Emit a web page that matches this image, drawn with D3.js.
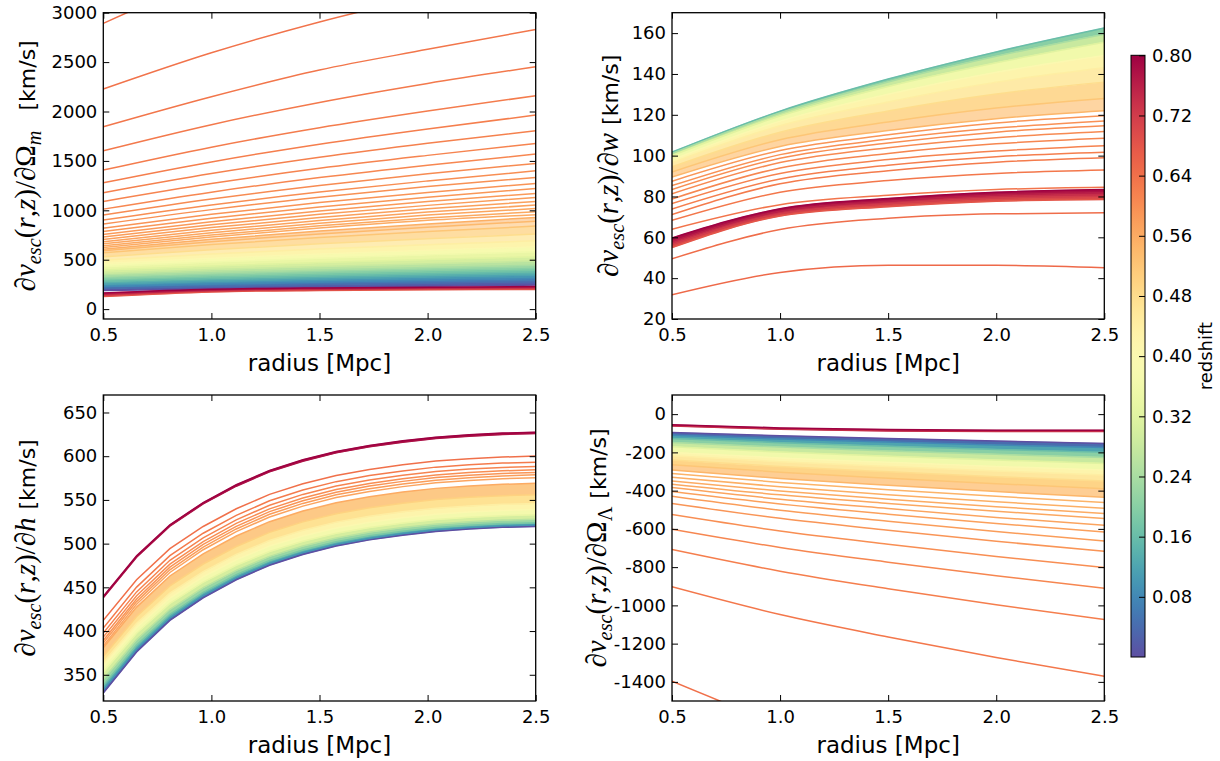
<!DOCTYPE html>
<html><head><meta charset="utf-8">
<script src="https://cdn.jsdelivr.net/npm/d3@7"></script>
<style>
body{margin:0;background:#fff}
svg{display:block}
text{font-family:"DejaVu Sans",sans-serif}
</style>
</head><body>
<svg id="chart" width="1220" height="761"></svg>
<script>
// ---------------- data ----------------
const xTicks = [0.5, 1.0, 1.5, 2.0, 2.5];
const radiusCoarse = [0.5, 1.0, 1.5, 2.0, 2.5];
const radiusFine = [0.5, 0.654, 0.808, 0.962, 1.115, 1.269, 1.423, 1.577, 1.731, 1.885, 2.038, 2.192, 2.346, 2.5];

// top-left: d v_esc / d Omega_m
const zTL = [0.00,0.04,0.08,0.12,0.16,0.20,0.24,0.28,0.32,0.36,0.40,0.44,0.48,0.52,0.54,0.555,
  0.560,0.564,0.568,0.572,0.576,0.580,0.584,0.588,0.592,0.596,0.600,0.604,0.608,0.612,0.616,0.620,0.624,0.628,0.632,0.636,0.640,
  0.68,0.72,0.76,0.80];
const valsTL = [
  [189,206,220,232,243],[209,230,248,263,277],[229,254,275,293,310],[253,281,305,325,344],
  [280,310,336,358,378],[307,340,367,390,412],[334,368,397,422,445],[361,400,432,460,486],
  [395,437,472,502,530],[429,476,515,549,580],[462,514,558,596,631],[496,557,608,652,692],
  [530,601,661,713,760],[570,654,724,785,840],[590,683,761,829,890],[607,707,790,862,928],
  [624,730,821,899,955],[641,750,843,923,985],[661,773,869,952,1019],[682,798,897,982,1053],
  [705,825,927,1015,1090],[729,853,959,1050,1130],[756,885,994,1089,1171],[786,920,1034,1132,1222],
  [820,959,1078,1181,1272],[861,1007,1132,1240,1333],[901,1054,1185,1297,1400],[952,1114,1252,1371,1475],
  [1012,1184,1331,1457,1569],[1090,1271,1425,1556,1677],[1178,1372,1537,1679,1805],[1279,1490,1669,1823,1964],
  [1407,1639,1836,2005,2160],[1603,1867,2092,2284,2453],[1846,2150,2420,2629,2831],[2227,2594,2906,3173,3418],
  [2892,3369,3774,4121,4439],
  [128,174,189,196,199],[140,183,198,205,209],[152,192,207,214,219],[163,200,215,222,228]
];
const fillTL = [[0,15],[37,40]];
const yTicksTL = [0,500,1000,1500,2000,2500,3000];

// top-right: d v_esc / d w
const zTR = [0.16,0.24,0.32,0.40,0.44,0.48,0.52,0.545,
  0.590,0.595,0.600,0.605,0.610,0.615,0.620,0.625,0.630,0.635,0.645,0.650,
  0.68,0.72,0.76,0.80];
const valsTR = [
  [101.7,121.8,137.5,150.8,162.5],[101.0,120.9,136.1,148.7,159.5],[100.0,119.4,133.9,145.5,155.5],
  [98.0,116.9,130.1,140.8,149.0],[96.5,114.6,126.3,136.0,143.0],[94.5,111.5,121.9,130.2,136.0],
  [92.0,107.8,116.5,123.3,128.0],[89.5,104.5,112.3,118.1,122.0],
  [87.5,102.5,110.2,116.0,119.5],[85.3,100.5,108.1,113.5,117.0],[83.4,98.7,106.2,111.5,114.6],
  [81.3,96.6,103.9,108.8,111.8],[78.8,94.0,101.1,105.8,108.5],[76.5,91.3,98.1,102.3,104.9],
  [73.9,88.6,95.3,99.5,101.7],[71.1,86.2,92.6,96.8,99.0],[68.3,82.1,87.8,91.3,93.0],
  [64.0,76.0,80.6,83.4,84.5],[49.5,63.8,69.3,71.5,72.0],[31.9,42.8,46.3,46.3,45.1],
  [55.0,70.4,75.0,77.7,78.5],[56.5,71.6,76.4,79.2,80.1],[58.0,72.8,77.7,80.7,81.8],[59.7,74.0,79.0,82.1,83.4]
];
const fillTR = [[0,7],[20,23]];
const yTicksTR = [20,40,60,80,100,120,140,160];

// bottom-left: d v_esc / d h
const zBL = [0.00,0.10,0.18,0.26,0.34,0.40,0.44,0.50,0.56,
  0.570,0.580,0.590,0.600,0.612,0.625,0.640,
  0.78,0.80];
const valsBL = [
  [329,376.1,412.2,438.0,458.6,475.3,487.6,497.3,504.3,509.7,513.9,516.7,518.6,519.7],
  [333,379.5,415.2,440.7,461.1,477.5,489.8,499.3,506.2,511.5,515.8,518.5,520.4,521.5],
  [338,383.9,419.2,444.3,464.4,480.7,492.7,502.1,509.0,514.2,518.4,521.1,522.9,524.0],
  [345,390.2,424.9,449.6,469.4,485.4,497.2,506.5,513.2,518.4,522.5,525.1,526.9,528.0],
  [353,397.5,431.6,455.9,475.3,491.0,502.7,511.8,518.4,523.5,527.5,530.1,532.0,533.0],
  [359.5,403.8,437.8,462.1,481.5,497.2,508.8,517.9,524.5,529.5,533.6,536.1,538.0,539.0],
  [364,408.9,443.4,468.0,487.7,503.6,515.4,524.6,531.3,536.4,540.5,543.1,544.9,546.0],
  [371,416.7,451.7,476.7,496.7,512.9,524.9,534.2,541.0,546.3,550.4,553.1,554.9,556.0],
  [381,427.4,463.0,488.4,508.7,525.1,537.3,546.8,553.7,559.0,563.2,565.9,567.8,569.0],
  [383.2,430.6,467.0,493.0,513.7,530.5,542.9,552.7,559.7,565.2,569.5,572.3,574.3,575.4],
  [386.3,433.7,470.1,496.1,516.8,533.6,546.0,555.8,562.8,568.3,572.6,575.4,577.4,578.7],
  [389.3,436.7,473.1,499.1,519.8,536.6,549.0,558.8,565.8,571.2,575.5,578.3,580.2,581.4],
  [393.1,440.3,476.6,502.4,523.1,539.8,552.2,561.9,568.9,574.3,578.6,581.3,583.3,584.4],
  [397.7,444.8,480.9,506.6,527.2,543.9,556.3,565.9,572.9,578.3,582.5,585.3,587.2,588.3],
  [403.4,450.3,486.2,511.9,532.4,549.0,561.3,570.9,577.9,583.2,587.5,590.2,592.1,593.2],
  [412.2,458.6,494.2,519.6,539.9,556.3,568.5,578.0,584.9,590.2,594.4,597.1,599.0,600.1],
  [438.0,484.4,520.0,545.4,565.7,582.1,594.3,603.8,610.7,616.0,620.2,622.9,624.8,625.9],
  [439.6,486.0,521.6,547.0,567.3,583.7,595.9,605.4,612.3,617.6,621.8,624.5,626.4,627.5]
];
const fillBL = [[0,8],[16,17]];
const yTicksBL = [350,400,450,500,550,600,650];

// bottom-right: d v_esc / d Omega_Lambda
const zBR = [0.00,0.08,0.16,0.24,0.32,0.40,0.44,0.48,0.52,0.545,
  0.550,0.555,0.560,0.565,0.570,0.575,0.580,0.590,0.600,0.610,0.620,0.630,0.640,
  0.74,0.80];
const valsBR = [
  [-96,-113.7,-127.9,-141.0,-153],[-110,-130.2,-146.4,-161.4,-175],[-127,-149.6,-167.9,-184.7,-200],
  [-148,-172.5,-192.2,-210.4,-227],[-171,-198.0,-219.7,-239.7,-258],[-200,-228.8,-252.1,-273.5,-293],
  [-218,-249,-274,-297,-318],[-240,-274.1,-301.6,-326.9,-350],[-265,-303.8,-335,-363.8,-390],
  [-292,-336.3,-372.1,-405,-435],
  [-310,-357,-395,-430,-462],[-330,-380,-421,-458,-492],[-349,-402,-445,-484,-520],
  [-366,-422,-467,-508,-546],[-384,-445,-494,-540,-581],[-405,-470,-523,-572,-616],
  [-429,-502,-560,-614,-663],[-467,-545,-607,-665,-717],[-525,-611,-680,-744,-802],
  [-602,-697,-774,-845,-910],[-708,-821,-913,-997,-1074],[-903,-1048,-1165,-1273,-1371],
  [-1397,-1622,-1804,-1971,-2123],
  [-62,-79,-88,-91,-91],[-55,-72,-81,-84,-84]
];
const fillBR = [[0,9],[23,24]];
const yTicksBR = [-1400,-1200,-1000,-800,-600,-400,-200,0];

const cbarTicks = [0.08,0.16,0.24,0.32,0.40,0.48,0.56,0.64,0.72,0.80];
const zRange = [0, 0.8];

// ---------------- drawing ----------------
const svg = d3.select('#chart');
const color = z => d3.interpolateSpectral(1 - (z - zRange[0]) / (zRange[1] - zRange[0]));
const fmtY = d => (d < 0 ? '-' : '') + d3.format('d')(Math.abs(d));

const panels = [
  {radius: radiusCoarse, z: zTL, vals: valsTL, fills: fillTL, yDomain: [-100, 3000], yTicks: yTicksTL, stripe: 0.55,
   box: {l: 103.3, r: 535.7, t: 12.7, b: 319}, curve: d3.curveMonotoneX, wrt: [{t:'∂'},{t:'Ω',up:true},{t:'m',sub:true}], gap: 20, lx: 35},
  {radius: radiusCoarse, z: zTR, vals: valsTR, fills: fillTR, yDomain: [20, 170], yTicks: yTicksTR, stripe: 0.65,
   box: {l: 672, r: 1104.3, t: 12.7, b: 319}, curve: d3.curveMonotoneX, wrt: [{t:'∂'},{t:'w'}], gap: 8, lx: 618},
  {radius: radiusFine, z: zBL, vals: valsBL, fills: fillBL, yDomain: [320, 670], yTicks: yTicksBL, stripe: 0.85,
   box: {l: 103.3, r: 535.7, t: 395, b: 701}, curve: d3.curveLinear, wrt: [{t:'∂'},{t:'h'}], gap: 8, lx: 35},
  {radius: radiusCoarse, z: zBR, vals: valsBR, fills: fillBR, yDomain: [-1500, 100], yTicks: yTicksBR, stripe: 0.75,
   box: {l: 672, r: 1104.3, t: 395, b: 701}, curve: d3.curveMonotoneX, wrt: [{t:'∂'},{t:'Ω',up:true},{t:'Λ',sub:true,up:true}], gap: 8, lx: 606}
];

const defs = svg.append('defs');

panels.forEach((p, i) => {
  const {l, r, t, b} = p.box;
  const x = d3.scaleLinear().domain([0.5, 2.5]).range([l, r]);
  const y = d3.scaleLinear().domain(p.yDomain).range([b, t]);
  const g = svg.append('g');

  defs.append('clipPath').attr('id', 'clip' + i)
    .append('rect').attr('x', l).attr('y', t).attr('width', r - l).attr('height', b - t);
  const plot = g.append('g').attr('clip-path', `url(#clip${i})`);

  // filled bands between neighbouring curves (dense families of lines)
  p.fills.forEach(([a, c]) => {
    for (let k = a; k < c; k++) {
      const lo = p.vals[k], hi = p.vals[k + 1];
      const area = d3.area()
        .x((d, j) => x(p.radius[j]))
        .y0((d, j) => y(lo[j]))
        .y1((d, j) => y(hi[j]))
        .curve(p.curve);
      const zm = (p.z[k] + p.z[k + 1]) / 2;
      const col = color(zm);
      const op = (zm > 0.45 && zm < 0.62) ? (zm > 0.5 ? p.stripe : Math.min(1, p.stripe + 0.2)) : 1;
      plot.append('path').datum(p.radius).attr('d', area)
        .attr('fill', col).attr('fill-opacity', op)
        .attr('stroke', col).attr('stroke-opacity', op).attr('stroke-width', op < 1 ? 0 : 0.6);
    }
  });

  // individual curves, drawn in redshift order
  const order = d3.range(p.z.length).sort((a, c) => p.z[a] - p.z[c]);
  const line = d3.line().x((d, j) => x(p.radius[j])).y(d => y(d)).curve(p.curve);
  plot.selectAll('path.curve').data(order).join('path')
    .attr('class', 'curve')
    .attr('d', k => line(p.vals[k]))
    .attr('fill', 'none')
    .attr('stroke', k => color(p.z[k]))
    .attr('stroke-width', 1.5);

  // axes (ticks inside on all four sides)
  const fmtX = d3.format('.1f');
  const ax = [
    g.append('g').attr('transform', `translate(0,${b})`).call(d3.axisBottom(x).tickValues(xTicks).tickSize(-6).tickPadding(9).tickFormat(fmtX)),
    g.append('g').attr('transform', `translate(0,${t})`).call(d3.axisTop(x).tickValues(xTicks).tickSize(-6).tickFormat('')),
    g.append('g').attr('transform', `translate(${l},0)`).call(d3.axisLeft(y).tickValues(p.yTicks).tickSize(-6).tickPadding(6).tickFormat(fmtY)),
    g.append('g').attr('transform', `translate(${r},0)`).call(d3.axisRight(y).tickValues(p.yTicks).tickSize(-6).tickFormat(''))
  ];
  ax.forEach(a => {
    a.select('.domain').remove();
    a.selectAll('.tick line').attr('stroke', '#000').attr('stroke-width', 1);
    a.selectAll('text').attr('font-size', 18).attr('font-family', '"DejaVu Sans", sans-serif').attr('fill', '#000');
  });
  g.append('rect').attr('x', l).attr('y', t).attr('width', r - l).attr('height', b - t)
    .attr('fill', 'none').attr('stroke', '#000').attr('stroke-width', 1.3);

  // x label
  g.append('text').attr('x', (l + r) / 2).attr('y', b + 52).attr('text-anchor', 'middle')
    .attr('font-size', 23).attr('fill', '#000').text('radius [Mpc]');

  // y label (math)
  const M = 29;
  const serif = '"Liberation Serif", "DejaVu Serif", serif';
  const lab = g.append('text')
    .attr('transform', `translate(${p.lx},${(t + b) / 2}) rotate(-90)`)
    .attr('text-anchor', 'middle').attr('fill', '#000');
  const parts = [{t:'∂'},{t:'v'},{t:'esc',sub:true},{t:'(',up:true},{t:'r'},{t:',',up:true},{t:'z'},{t:')/',up:true}].concat(p.wrt);
  let shifted = false;
  parts.forEach(pt => {
    const ts = lab.append('tspan').text(pt.t)
      .attr('font-family', serif)
      .attr('font-style', pt.up ? 'normal' : 'italic')
      .attr('font-size', pt.sub ? M * 0.7 : M);
    if (pt.sub && !shifted) { ts.attr('dy', M * 0.22); shifted = true; }
    else if (!pt.sub && shifted) { ts.attr('dy', -M * 0.22); shifted = false; }
  });
  const unit = lab.append('tspan').text('[km/s]').attr('font-size', 22)
    .attr('font-family', '"DejaVu Sans", sans-serif').attr('dx', p.gap);
  if (shifted) unit.attr('dy', -M * 0.22);
});

// ---------------- colorbar ----------------
const cb = {l: 1131, r: 1145, t: 55.3, b: 657};
const grad = defs.append('linearGradient').attr('id', 'cbgrad')
  .attr('x1', 0).attr('y1', 1).attr('x2', 0).attr('y2', 0);
d3.range(0, 1.0001, 0.02).forEach(o => {
  grad.append('stop').attr('offset', o).attr('stop-color', color(zRange[0] + o * (zRange[1] - zRange[0])));
});
svg.append('rect').attr('x', cb.l).attr('y', cb.t).attr('width', cb.r - cb.l).attr('height', cb.b - cb.t)
  .attr('fill', 'url(#cbgrad)').attr('stroke', '#000').attr('stroke-width', 1);
const cy = d3.scaleLinear().domain(zRange).range([cb.b, cb.t]);
const cax = svg.append('g').attr('transform', `translate(${cb.r},0)`)
  .call(d3.axisRight(cy).tickValues(cbarTicks).tickSize(-6).tickPadding(7).tickFormat(d3.format('.2f')));
cax.select('.domain').remove();
cax.selectAll('.tick line').attr('stroke', '#000').attr('stroke-width', 1);
cax.selectAll('text').attr('font-size', 18).attr('font-family', '"DejaVu Sans", sans-serif').attr('fill', '#000');
svg.append('text').attr('transform', `translate(1212,${(cb.t + cb.b) / 2}) rotate(-90)`)
  .attr('text-anchor', 'middle').attr('font-size', 18).attr('fill', '#000').text('redshift');
</script>
</body></html>
